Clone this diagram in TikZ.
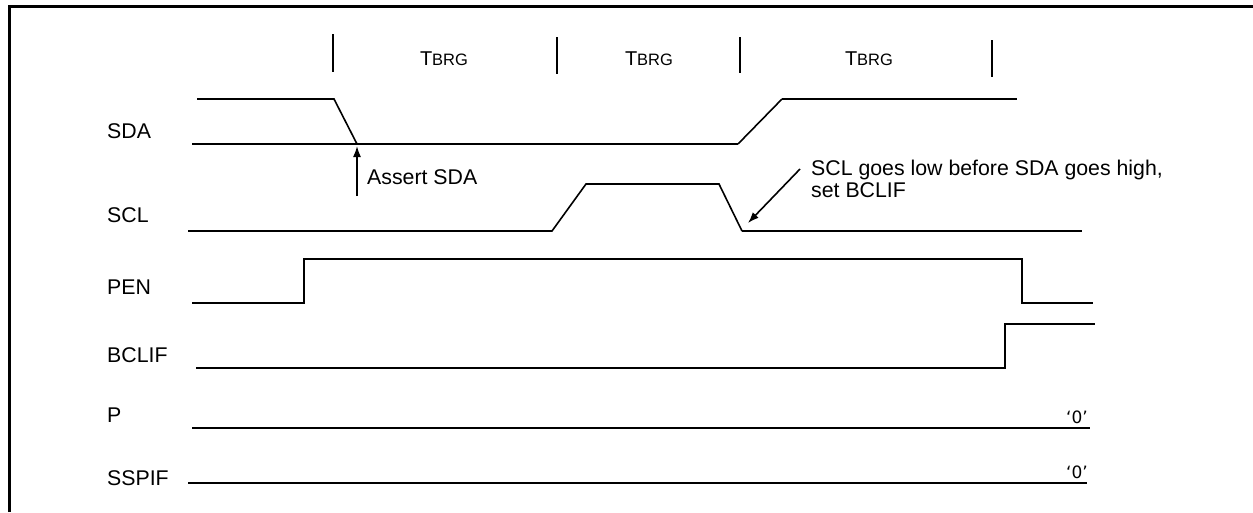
\documentclass[tikz,border=0pt]{standalone}
\usepackage{fontspec}
\setmainfont{Liberation Sans}
\newfontfamily\zerofont{DejaVu Sans}
\usetikzlibrary{arrows.meta}
\begin{document}
\begin{tikzpicture}[x=1pt,y=-1pt,
  thick sig/.style={line width=2.8pt, line join=miter},
  thin sig/.style={line width=1.6pt},
  tick/.style={line width=2.4pt},
  lbl/.style={anchor=base west, inner sep=0pt, font=\fontsize{21.3}{25}\selectfont},
  tbrg/.style={anchor=base, inner sep=0pt},
  zero/.style={anchor=base, inner sep=0pt, font=\zerofont\fontsize{17}{20}\selectfont},
  note/.style={line width=1.6pt, -{Latex[length=11pt,width=8pt]}}]
\useasboundingbox (0,0) rectangle (1253,512);
% frame
\draw[line width=3pt] (9,512) -- (9,6) -- (1253,6);
% ticks
\foreach \x/\a/\b in {333/34/72, 557/37/74, 740/37/73, 992/40/77}
  \draw[tick] (\x,\a) -- (\x,\b);
% TBRG labels
\foreach \x/\n in {444/t1, 649/t2, 869/t3}
  \node[tbrg] (\n) at (\x,65) {\fontsize{20}{22}\selectfont T\fontsize{16.5}{18}\selectfont BRG};
% signal labels
\node[lbl] (sda) at (107,138) {SDA};
\node[lbl] (scl) at (107,222) {SCL};
\node[lbl] (pen) at (107,294) {PEN};
\node[lbl] (bclif) at (107,362) {BCLIF};
\node[lbl] (p) at (107,422) {P};
\node[lbl] (sspif) at (107,485) {SSPIF};
% SDA
\draw[thin sig] (197,99) -- (334,99) -- (357,144);
\draw[thick sig] (192,144) -- (738,144);
\draw[thin sig] (738,144) -- (782,99);
\draw[thick sig] (782,99) -- (1017,99);
% SCL
\draw[thin sig] (188,231) -- (552,231) -- (586,184) -- (719,184) -- (742,231);
\draw[thick sig] (742,231) -- (1082,231);
% PEN
\draw[thick sig] (192,303) -- (304,303) -- (304,259) -- (1022,259) -- (1022,303) -- (1093,303);
% BCLIF
\draw[thick sig] (196,368) -- (1005,368) -- (1005,324) -- (1095,324);
% P
\draw[thick sig] (192,428) -- (1090,428);
\node[zero] (p0) at (1077,423) {‘0’};
% SSPIF
\draw[thick sig] (188,483) -- (1087,483);
\node[zero] (s0) at (1077,478) {‘0’};
% annotations
\coordinate (a1s) at (357,196);
\coordinate (a1e) at (357,146);
\draw[note] (a1s) -- (a1e);
\node[lbl] (assert) at (367,184) {Assert SDA};
\coordinate (a2s) at (800,169);
\coordinate (a2e) at (748,223);
\draw[note] (a2s) -- (a2e);
\node[lbl] (n1) at (811,175) {SCL goes low before SDA goes high,};
\node[lbl] (n2) at (811,197) {set BCLIF};
\end{tikzpicture}
\end{document}
